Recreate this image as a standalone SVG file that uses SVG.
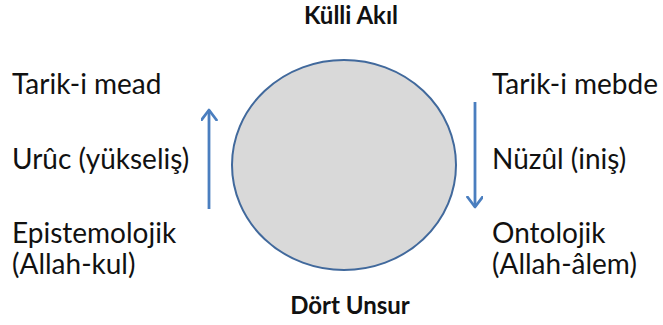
<svg xmlns="http://www.w3.org/2000/svg" width="663" height="325" viewBox="0 0 663 325">
  <style>
    .lbl { font-family: Lato, "Open Sans", "Liberation Sans", sans-serif; font-size: 28px; fill: #111; }
    .ttl { font-family: Lato, "Open Sans", "Liberation Sans", sans-serif; font-size: 24px; font-weight: bold; fill: #111; text-anchor: middle; }
    .flow { stroke: #4a7ebf; stroke-width: 2.8; fill: none; }
  </style>
  <defs>
    <marker id="chevron" markerUnits="userSpaceOnUse" markerWidth="20" markerHeight="20" refX="11" refY="8" orient="auto">
      <polyline points="1,0.5 11,8 1,15.5" fill="none" stroke="#4a7ebf" stroke-width="2.8" stroke-linecap="round" stroke-linejoin="round"/>
    </marker>
  </defs>
  <rect width="663" height="325" fill="#ffffff"/>

  <g id="node-circle">
    <ellipse cx="344" cy="165" rx="112" ry="105" fill="#d9d9d9" stroke="#41699c" stroke-width="2"/>
  </g>

  <g id="node-top">
    <text class="ttl" x="351" y="24">Külli Akıl</text>
  </g>
  <g id="node-bottom">
    <text class="ttl" x="350" y="314">Dört Unsur</text>
  </g>

  <g id="node-left">
    <text class="lbl" x="12" y="94">Tarik-i mead</text>
    <text class="lbl" x="12" y="169">Urûc (yükseliş)</text>
    <text class="lbl" x="12" y="243">Epistemolojik</text>
    <text class="lbl" x="12" y="274">(Allah-kul)</text>
  </g>

  <g id="node-right">
    <text class="lbl" x="492" y="94">Tarik-i mebde</text>
    <text class="lbl" x="492" y="169">Nüzûl (iniş)</text>
    <text class="lbl" x="492" y="243">Ontolojik</text>
    <text class="lbl" x="492" y="274">(Allah-âlem)</text>
  </g>

  <g id="connectors">
    <line class="flow" x1="209" y1="209" x2="209" y2="110" marker-end="url(#chevron)"/>
    <line class="flow" x1="475" y1="102" x2="475" y2="207" marker-end="url(#chevron)"/>
  </g>
</svg>
